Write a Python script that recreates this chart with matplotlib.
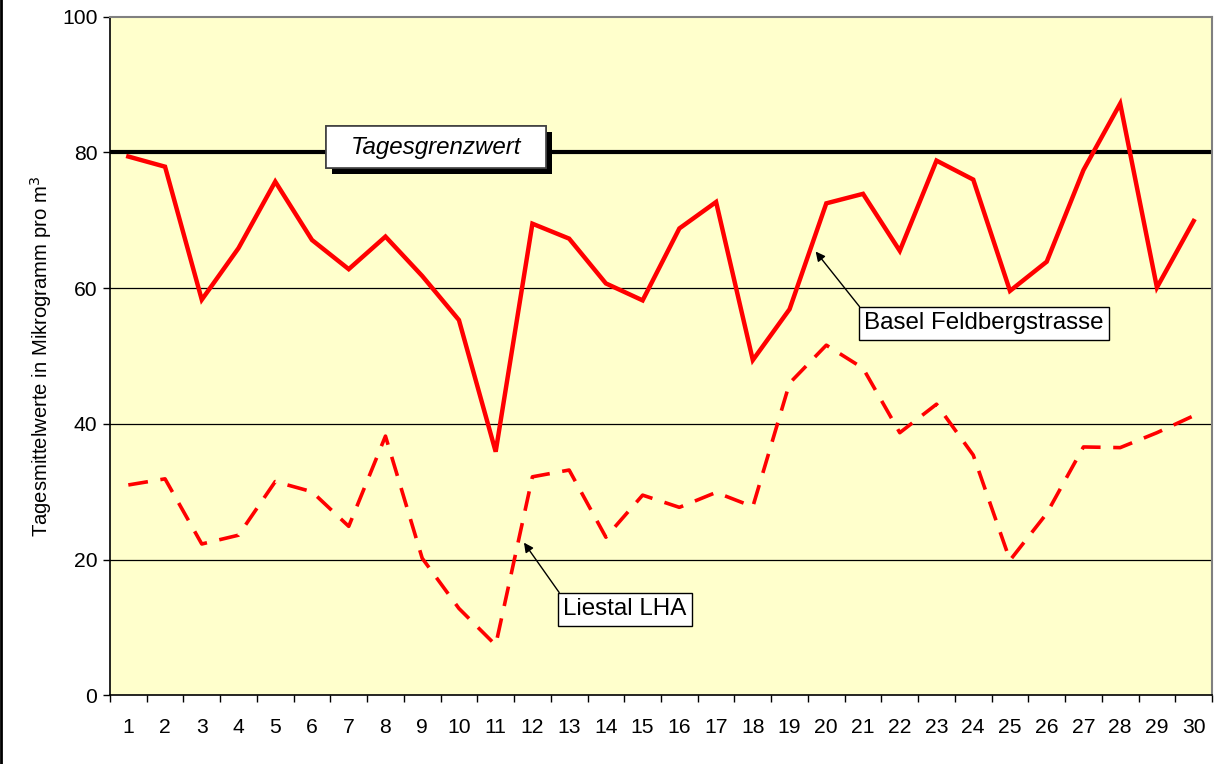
import numpy as np
import matplotlib
matplotlib.use('Agg')
import matplotlib.pyplot as plt
import matplotlib.patheffects as pe
from matplotlib.lines import Line2D
from matplotlib.patches import Rectangle

plt.rcParams['font.family'] = ['Liberation Sans', 'DejaVu Sans']

# Tagesmittelwerte (Mikrogramm pro m3)
tage = np.arange(1, 31)
basel = [79.4, 77.9, 58.3, 65.9, 75.7, 67.1, 62.8, 67.6, 61.8, 55.3,
         35.9, 69.5, 67.3, 60.7, 58.2, 68.8, 72.7, 49.4, 56.9, 72.5,
         73.9, 65.5, 78.8, 76.0, 59.6, 63.9, 77.4, 87.2, 60.1, 69.9]
liestal = [31.0, 31.9, 22.3, 23.6, 31.5, 30.0, 24.9, 38.2, 20.2, 12.8,
           7.4, 32.2, 33.2, 23.3, 29.5, 27.7, 29.9, 27.8, 46.0, 51.6,
           48.2, 38.7, 42.9, 35.4, 19.9, 26.8, 36.6, 36.5, 38.7, 41.2]
grenzwert = 80

fig = plt.figure(figsize=(12.27, 7.64), dpi=100)
ax = fig.add_axes([0.0896, 0.0899, 0.8982, 0.8882])
ax.set_facecolor('#FFFFCC')

for y in [20, 40, 60]:
    ax.axhline(y, color='black', lw=0.9, zorder=1)
ax.axhline(grenzwert, color='black', lw=3.0, zorder=2)

ax.plot(tage, basel, color='#FF0000', lw=3.2, zorder=3, solid_joinstyle='miter')
ax.plot(tage, liestal, color='#FF0000', lw=2.6, dashes=(5.5, 3.5), zorder=3)

ax.set_xlim(0.5, 30.5)
ax.set_ylim(0, 100)
ax.set_yticks(range(0, 101, 20))
ax.set_xticks(np.arange(0.5, 31, 1))
ax.set_xticklabels([])
ax.set_xticks(tage, minor=True)
ax.set_xticklabels([str(t) for t in tage], minor=True)
ax.tick_params(axis='x', which='major', direction='out', length=5, width=1)
ax.tick_params(axis='x', which='minor', length=0, pad=16, labelsize=15.2)
ax.tick_params(axis='y', direction='out', length=5, width=1, labelsize=15.2, pad=4)

for s in ['top', 'right']:
    ax.spines[s].set_color('#808080')
    ax.spines[s].set_linewidth(1.5)
for s in ['left', 'bottom']:
    ax.spines[s].set_color('black')
    ax.spines[s].set_linewidth(1.2)

ax.set_ylabel('Tagesmittelwerte in Mikrogramm pro m$^3$', fontsize=14.6, labelpad=6)

# Grenzwert-Beschriftung mit Schatten
box = Rectangle((6.38, 77.7), 5.99, 6.2, fc='white', ec='#404040', lw=1.2, zorder=5)
box.set_path_effects([
    pe.withSimplePatchShadow(offset=(4, -4), shadow_rgbFace='black', alpha=1.0),
    pe.Normal()])
ax.add_patch(box)
ax.text(9.38, 80.8, 'Tagesgrenzwert', fontsize=17.4, style='italic',
        ha='center', va='center', zorder=6)

ax.annotate('Basel Feldbergstrasse', xy=(19.71, 65.4), xytext=(24.29, 54.8),
            fontsize=17.4, ha='center', va='center', zorder=5,
            bbox=dict(boxstyle='square,pad=0.22', fc='white', ec='black', lw=1.0),
            arrowprops=dict(arrowstyle='-|>', color='black', lw=1.0, relpos=(0, 1),
                            shrinkA=0, shrinkB=0, mutation_scale=14))
ax.annotate('Liestal LHA', xy=(11.77, 22.5), xytext=(14.52, 12.67),
            fontsize=17.4, ha='center', va='center', zorder=5,
            bbox=dict(boxstyle='square,pad=0.22', fc='white', ec='black', lw=1.0),
            arrowprops=dict(arrowstyle='-|>', color='black', lw=1.0, relpos=(0, 1),
                            shrinkA=0, shrinkB=0, mutation_scale=14))

fig.add_artist(Line2D([0.0012, 0.0012], [0, 1], color='black', lw=2))

fig.savefig('out.png', dpi=100)
